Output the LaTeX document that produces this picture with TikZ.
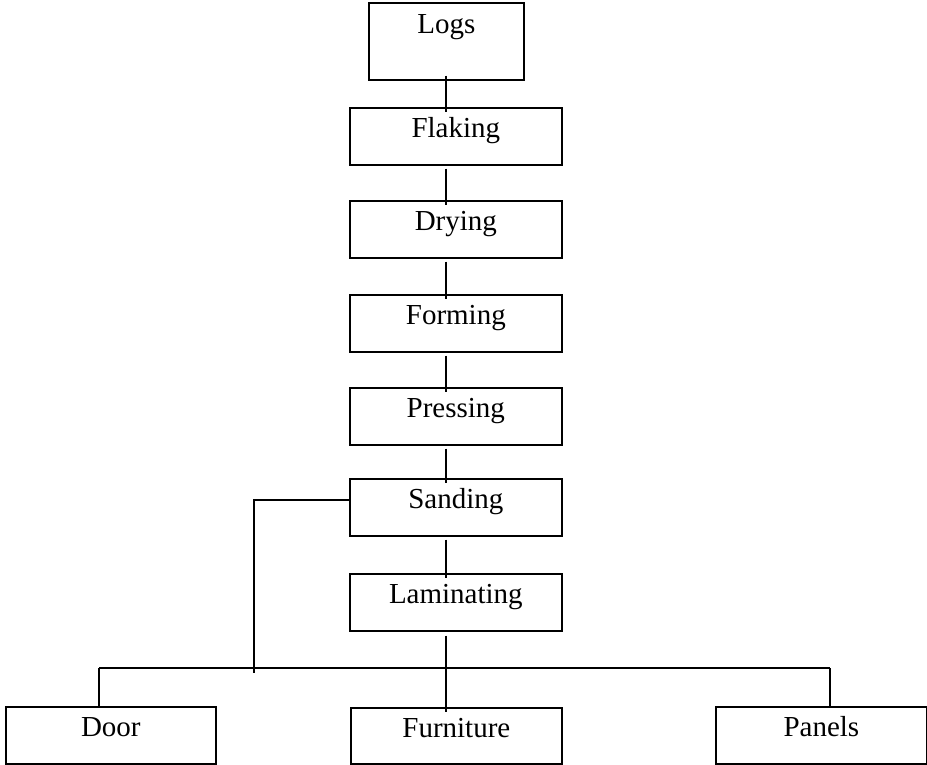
\documentclass[tikz,border=0pt]{standalone}
\usepackage{fontspec}
\setmainfont{Liberation Serif}
\usetikzlibrary{calc}
\begin{document}
\begin{tikzpicture}[x=1bp,y=-1bp,
  procbox/.style={draw, line width=1.7bp, inner sep=0pt, anchor=north west,
    text height=30bp, text depth=27bp, minimum width=212bp,
    font=\fontsize{29bp}{33bp}\selectfont},
  link/.style={draw, line width=1.7bp}]
\useasboundingbox (0,0) rectangle (927,765);

% process chain
\node[procbox, minimum width=155bp, text height=31bp, text depth=46bp] (logs) at (368,2) {Logs};
\node[procbox] (flak) at (349,107) {Flaking};
\node[procbox] (dry)  at (349,200) {Drying};
\node[procbox] (form) at (349,294) {Forming};
\node[procbox] (pres) at (349,387) {Pressing};
\node[procbox] (sand) at (349,478) {Sanding};
\node[procbox] (lam)  at (349,573) {Laminating};

% products
\node[procbox, minimum width=210bp] (door) at (5,706) {Door};
\node[procbox, minimum width=211bp, text depth=26bp] (furn) at (350,707) {Furniture};
\node[procbox, minimum width=211bp] (pan)  at (715,706) {Panels};

% vertical spine
\coordinate (sp) at (446,0);
\draw[link] ($(sp |- logs.south)+(0,-5)$) -- ($(sp |- flak.north)+(0,5)$);
\draw[link] ($(sp |- flak.south)+(0,3)$) -- ($(sp |- dry.north)+(0,5)$);
\draw[link] ($(sp |- dry.south)+(0,3)$)  -- ($(sp |- form.north)+(0,5)$);
\draw[link] ($(sp |- form.south)+(0,3)$) -- ($(sp |- pres.north)+(0,5)$);
\draw[link] ($(sp |- pres.south)+(0,3)$) -- ($(sp |- sand.north)+(0,5)$);
\draw[link] ($(sp |- sand.south)+(0,3)$) -- ($(sp |- lam.north)+(0,5)$);
\draw[link] ($(sp |- lam.south)+(0,4)$)  -- ($(sp |- furn.north)+(0,5)$);

% distribution bus
\coordinate (bl) at (99,668);
\coordinate (br) at (830,668);
\draw[link] (bl) -- (br);
\draw[link] (bl) -- (bl |- door.north);
\draw[link] (br) -- (br |- pan.north);

% side branch from Sanding
\coordinate (sl) at (254,673);
\draw[link] ($(sand.north west)+(0,22)$) -| (sl);
\end{tikzpicture}
\end{document}
